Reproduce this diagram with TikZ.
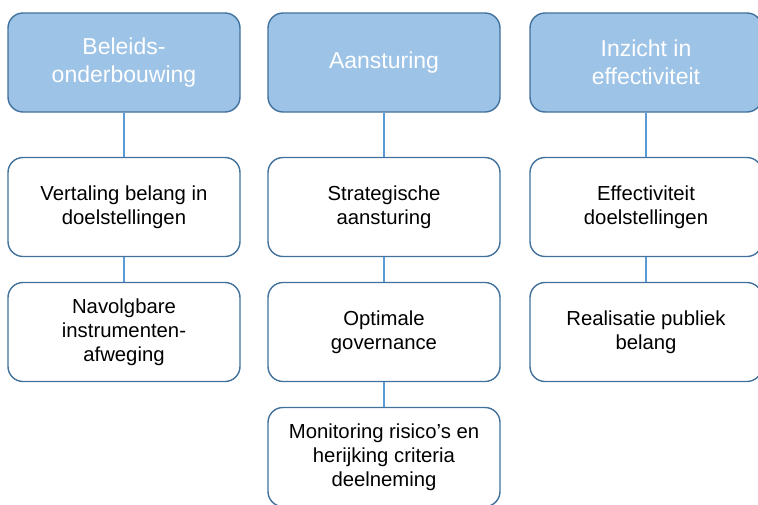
\documentclass[tikz,border=0pt]{standalone}
\usepackage{fontspec}
\setmainfont{Liberation Sans}
\definecolor{topfill}{HTML}{9DC3E6}
\definecolor{boxline}{HTML}{41719C}
\definecolor{conn}{HTML}{5B9BD5}
\tikzset{
  headbox/.style={draw=boxline, fill=topfill, line width=1.4pt, rounded corners=15pt,
    minimum width=232pt, minimum height=99pt, align=center, text=white,
    font=\fontsize{23pt}{28pt}\selectfont, inner sep=0pt},
  itembox/.style={draw=boxline, fill=white, line width=1.4pt, rounded corners=15pt,
    minimum width=232pt, minimum height=99pt, align=center, text=black,
    font=\fontsize{20.3pt}{24pt}\selectfont, inner sep=0pt},
  link/.style={draw=conn, line width=1.8pt}
}
\begin{document}
\begin{tikzpicture}[x=1pt,y=-1pt]
\useasboundingbox (0,0) rectangle (758,504);
\clip (0,0) rectangle (758,504);
\fill[white] (0,0) rectangle (758,504);
% column 1
\node[headbox] (h1) at (124,62.5) {Beleids-\\onderbouwing};
\node[itembox] (a1) at (124,207) {Vertaling belang in\\doelstellingen};
\node[itembox] (a2) at (124,332) {Navolgbare\\instrumenten-\\afweging};
% column 2
\node[headbox] (h2) at (384,62.5) {Aansturing};
\node[itembox] (b1) at (384,207) {Strategische\\aansturing};
\node[itembox] (b2) at (384,332) {Optimale\\governance};
\node[itembox] (b3) at (384,457) {Monitoring risico’s en\\herijking criteria\\deelneming};
% column 3
\node[headbox] (h3) at (646,62.5) {Inzicht in\\effectiviteit};
\node[itembox] (c1) at (646,207) {Effectiviteit\\doelstellingen};
\node[itembox] (c2) at (646,332) {Realisatie publiek\\belang};
% connectors
\draw[link] (h1.south) -- (a1.north);
\draw[link] (a1.south) -- (a2.north);
\draw[link] (h2.south) -- (b1.north);
\draw[link] (b1.south) -- (b2.north);
\draw[link] (b2.south) -- (b3.north);
\draw[link] (h3.south) -- (c1.north);
\draw[link] (c1.south) -- (c2.north);
\end{tikzpicture}
\end{document}
